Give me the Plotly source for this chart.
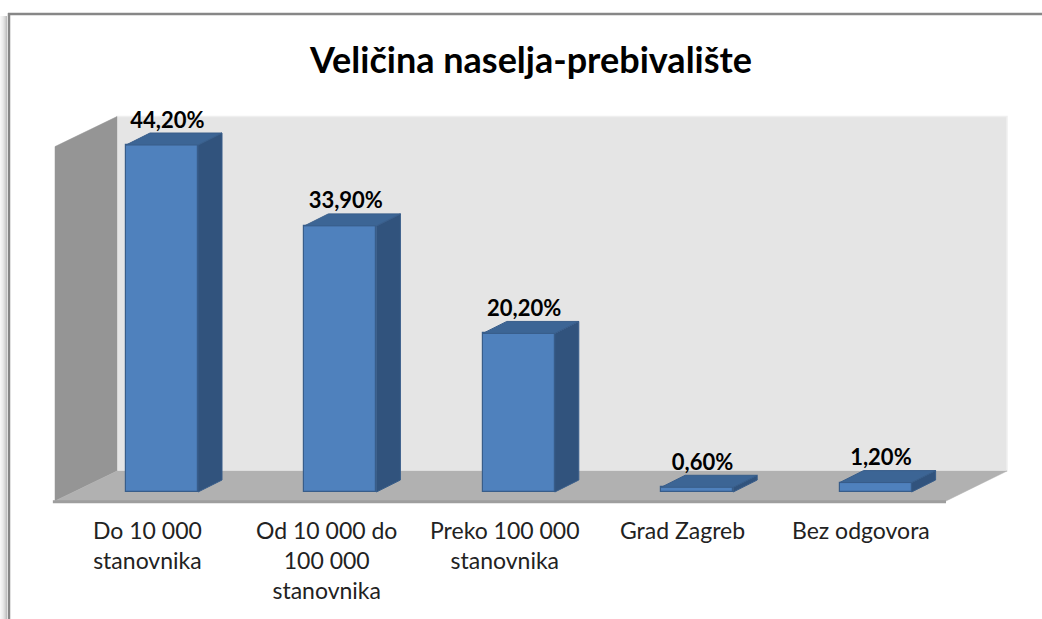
import plotly.graph_objects as go

# ---------------- data ----------------
categories = ["Do 10 000<br>stanovnika", "Od 10 000 do<br>100 000<br>stanovnika",
              "Preko 100 000<br>stanovnika", "Grad Zagreb", "Bez odgovora"]
values = [44.2, 33.9, 20.2, 0.6, 1.2]
value_labels = ["44,20%", "33,90%", "20,20%", "0,60%", "1,20%"]
title_text = "Veličina naselja-prebivalište"
axis_max = 45

# ---------------- geometry (pixel layout) ----------------
W, H = 1042, 619
ML, MR, MT, MB = 28, 0, 80, 100
PW, PH = W - ML - MR, H - MT - MB
X0_PX, X_STEP = 162.0, 178.4          # pixel centre of first category, spacing
Y0_PX, Y_UNIT = 492.0, 7.85            # pixel of value 0, pixels per percent

x_lo = (ML - X0_PX) / X_STEP
x_hi = x_lo + PW / X_STEP
y_hi = (Y0_PX - MT) / Y_UNIT
y_lo = y_hi - PH / Y_UNIT


def dx(px):
    return (px - X0_PX) / X_STEP


def dy(py):
    return (Y0_PX - py) / Y_UNIT


bar_w = 72 / X_STEP
depth_x = 24 / X_STEP
depth_y = 12 / Y_UNIT

# walls / floor in data units
floor_front_y, floor_back_y = dy(501), dy(471)
fl_x, fr_x = dx(55), dx(946)
bl_x, br_x = dx(117), dx(1007)
back_top = floor_back_y + axis_max + 0.15
left_front_top = back_top - (floor_back_y - floor_front_y)

FRONT = "#4F81BD"
SIDE = "#31537D"
TOP = "#3C6595"
EDGE = "#385D8A"

fig = go.Figure()


def path_of(xs, ys):
    return "M " + " L ".join(f"{a},{b}" for a, b in zip(xs, ys)) + " Z"


def wall(xs, ys, fill, line_color, lw):
    fig.add_shape(type="path", xref="x", yref="y", layer="below",
                  path=path_of(xs, ys), fillcolor=fill,
                  line=dict(color=line_color, width=lw))


# back wall, left wall, floor
wall([bl_x, br_x, br_x, bl_x], [floor_back_y, floor_back_y, back_top, back_top],
     "#E5E5E5", "#EFEFEF", 1.5)
wall([fl_x, bl_x, bl_x, fl_x], [floor_front_y, floor_back_y, back_top, left_front_top],
     "#959595", "#959595", 0.5)
wall([fl_x, fr_x, br_x, bl_x], [floor_front_y, floor_front_y, floor_back_y, floor_back_y],
     "#B1B1B1", "#B1B1B1", 0.5)
fig.add_shape(type="line", xref="x", yref="y", layer="below",
              x0=fl_x - 0.012, x1=fr_x, y0=floor_front_y - 0.1, y1=floor_front_y - 0.1,
              line=dict(color="#9E9E9E", width=3))

# front faces of the bars
fig.add_trace(go.Bar(x=list(range(len(values))), y=values, width=bar_w,
                     marker=dict(color=FRONT, line=dict(color=EDGE, width=1.2)),
                     hoverinfo="skip", showlegend=False))


def poly(xs, ys, fill, line_color, lw):
    fig.add_trace(go.Scatter(
        x=xs + [xs[0]], y=ys + [ys[0]], mode="lines", fill="toself",
        fillcolor=fill, line=dict(color=line_color, width=lw),
        hoverinfo="skip", showlegend=False))


# side and top faces computed from the values
for i, v in enumerate(values):
    r = i + bar_w / 2
    l = i - bar_w / 2
    poly([r, r + depth_x, r + depth_x, r], [0, depth_y, v + depth_y, v], SIDE, EDGE, 1)
    poly([l, r, r + depth_x, l + depth_x], [v, v, v + depth_y, v + depth_y], TOP, EDGE, 1)

# data labels
fig.add_trace(go.Scatter(
    x=[i + 0.03 for i in range(len(values))],
    y=[v + depth_y for v in values],
    mode="text", text=value_labels, textposition="top center",
    textfont=dict(family="Lato", size=22, color="#000000", weight="bold"),
    hoverinfo="skip", showlegend=False, cliponaxis=False))

# category labels
for i, c in enumerate(categories):
    fig.add_annotation(x=i - 0.08, y=dy(514), xref="x", yref="y", text=c,
                       showarrow=False, yanchor="top", xanchor="center",
                       font=dict(family="Lato", size=23, color="#222222"))


# outer frame (top and left border lines with a soft shadow)
def paper_x(px):
    return (px - ML) / PW


def paper_y(py):
    return (H - MB - py) / PH


for k, a in enumerate([0.03, 0.05, 0.07, 0.10, 0.14, 0.19, 0.25]):
    fig.add_shape(type="line", xref="paper", yref="paper",
                  x0=paper_x(0.5 + k), x1=paper_x(0.5 + k), y0=paper_y(16), y1=paper_y(H + 5),
                  line=dict(color=f"rgba(0,0,0,{a})", width=1))
fig.add_shape(type="line", xref="paper", yref="paper",
              x0=paper_x(8), x1=paper_x(W + 5), y0=paper_y(14), y1=paper_y(14),
              line=dict(color="#878787", width=2.5))
fig.add_shape(type="line", xref="paper", yref="paper",
              x0=paper_x(9), x1=paper_x(9), y0=paper_y(13), y1=paper_y(H + 5),
              line=dict(color="#878787", width=2.5))

fig.update_layout(
    width=W, height=H,
    margin=dict(l=ML, r=MR, t=MT, b=MB),
    paper_bgcolor="white", plot_bgcolor="white",
    title=dict(text=title_text, x=(531 - ML) / PW, xref="paper", xanchor="center",
               y=1 - 60 / H, yanchor="middle", yref="container",
               font=dict(family="Lato", size=36, color="#000000", weight="bold")),
    xaxis=dict(range=[x_lo, x_hi], visible=False, fixedrange=True),
    yaxis=dict(range=[y_lo, y_hi], visible=False, fixedrange=True),
    bargap=0,
)

fig.write_html("out.html", config={"displayModeBar": False},
               post_script="document.body.style.margin='0';document.body.style.overflow='hidden';")
